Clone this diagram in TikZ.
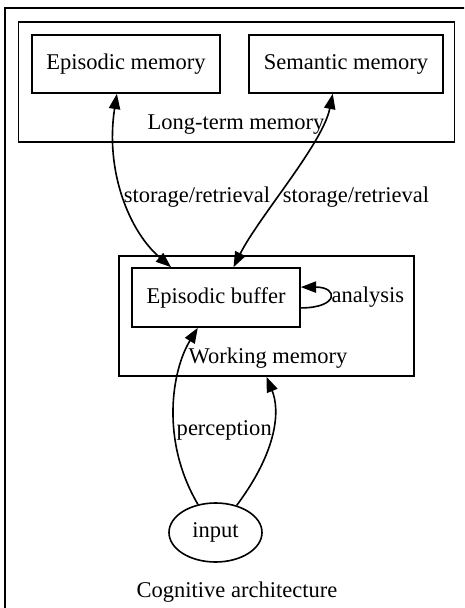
\documentclass[tikz,border=0pt]{standalone}
\usepackage{fontspec}
\setmainfont{Liberation Serif}
\usetikzlibrary{positioning}
\usetikzlibrary{arrows.meta}
\usetikzlibrary{shapes.geometric}

\begin{document}
\begin{tikzpicture}[ x = 0.622pt, y = -0.622pt
                     , font = \fontsize{14}{17}\selectfont
                     , line width = 1pt
                     , >={Triangle[length=9.5pt, width=7pt]}
                     , box/.style = { rectangle
                                    , draw = black
                                    , inner sep = 0pt }
                     , cluster/.style = { rectangle
                                        , draw = black
                                        , inner sep = 0pt }
                     , lbl/.style = { inner sep = 1pt }
                     ]
  \clip (0,0) rectangle (464,608);
  \useasboundingbox (0,0) rectangle (464,608);

  %%
  %% Clusters
  %%
  \node (cog) [cluster, minimum width = 465*0.622pt, minimum height = 612*0.622pt]
        at (237.5,314) {};
  \node (ltm) [cluster, minimum width = 436*0.622pt, minimum height = 120*0.622pt]
        at (236.5,82) {};
  \node (wm)  [cluster, minimum width = 295*0.622pt, minimum height = 120*0.622pt]
        at (266.5,316) {};

  %%
  %% Nodes
  %%
  \node (epimem) [box, minimum width = 188*0.622pt, minimum height = 58*0.622pt]
        at (126,64) {Episodic memory};
  \node (semmem) [box, minimum width = 194*0.622pt, minimum height = 58*0.622pt]
        at (346,64) {Semantic memory};
  \node (buffer) [box, minimum width = 168*0.622pt, minimum height = 59*0.622pt]
        at (216,297.5) {Episodic buffer};
  \node (input)  [ellipse, draw = black, inner sep = 0pt,
                  minimum width = 93*0.622pt, minimum height = 59*0.622pt]
        at (215.5,532.5) {input};

  % cluster labels
  \node (ltmlabel) at (236,125) {Long-term memory};
  \node (wmlabel)  at (268,358) {Working memory};
  \node (coglabel) at (237,592) {Cognitive architecture};

  %%
  %% Edges
  %%
  \draw[<->] (epimem.253) .. controls +(-12,77) and +(-42,-36) .. (buffer.146);
  \draw[<->] (semmem.246) .. controls +(-10,50) and +(25,-50) .. (buffer.60);
  \draw[->]  (buffer.-7) .. controls +(38,0) and +(38,0) .. (buffer.7)
             node[pos=0.5, right, lbl] {analysis};
  \draw[->]  (input.122) .. controls (160,440) and (172,370) .. (buffer.239)
             node[pos=0.38, right, lbl] {perception};
  \draw[->]  (input.52) .. controls (278,450) and (280,410) .. (wm.south);

  % edge labels
  \node (sr1) at (197,197) {storage/retrieval};
  \node (sr2) at (356,197) {storage/retrieval};
\end{tikzpicture}
\end{document}
